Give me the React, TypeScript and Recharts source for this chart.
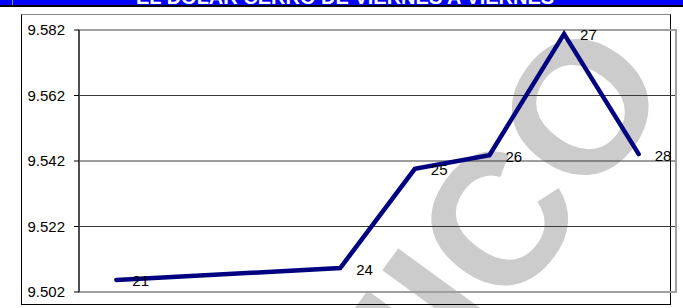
import React from "react";
import {
  LineChart,
  Line,
  XAxis,
  YAxis,
  CartesianGrid,
  ReferenceArea,
  LabelList
} from "recharts";

// days of the week shown (22 and 23 are the weekend, no quote)
const days = [21, 24, 25, 26, 27, 28];
const rates = [9.5057, 9.5093, 9.5396, 9.5438, 9.5808, 9.5441];
const yTicks = [9.502, 9.522, 9.542, 9.562, 9.582];

const title = "EL DÓLAR CERRÓ DE VIERNES A VIERNES";
const watermark = "ECONOMICO";

const data = days.map((d, i) => ({ day: d, rate: rates[i] }));

const FONT = "'Liberation Sans', Arial, sans-serif";

const DayLabel = (props: any) => {
  const { x, y, value } = props;
  return (
    <text
      x={x + 16}
      y={y + 1}
      dominantBaseline="central"
      textAnchor="start"
      fontFamily={FONT}
      fontSize={15}
      fill="#000"
    >
      {value}
    </text>
  );
};

export default function App() {
  return (
    <div
      style={{
        position: "absolute",
        left: 0,
        top: 0,
        width: 683,
        height: 308,
        overflow: "hidden",
        background: "#fff",
        fontFamily: FONT
      }}
    >
      {/* title band, mostly cut off at the top */}
      <svg width={683} height={8} style={{ position: "absolute", left: 0, top: 0 }}>
        <rect x={0} y={0} width={683} height={5} fill="#0000ff" />
        <rect x={0} y={5} width={683} height={2} fill="#000" />
        <rect x={12} y={0} width={1} height={5} fill="#8c8cff" />
        <text x={345} y={4} textAnchor="middle" fontFamily={FONT} fontWeight="bold" fontSize={20} fill="#fff">
          {title}
        </text>
      </svg>

      {/* watermark behind the chart */}
      <svg width={683} height={308} style={{ position: "absolute", left: 0, top: 0 }}>
        <text
          x={676}
          y={86}
          textAnchor="end"
          fontFamily={FONT}
          fontWeight="bold"
          fontSize={188}
          fill="#cccccc"
          transform="rotate(-54 676 86)"
        >
          {watermark}
        </text>
      </svg>

      {/* chart frame */}
      <div
        style={{
          position: "absolute",
          left: 21,
          top: 14,
          width: 650,
          height: 291,
          borderTop: "1px solid #888",
          borderLeft: "1.5px solid #000",
          borderRight: "1.5px solid #000",
          borderBottom: "1.5px solid #000",
          boxSizing: "border-box"
        }}
      />

      <div style={{ position: "absolute", left: 0, top: 0 }}>
        <LineChart
          width={683}
          height={308}
          data={data}
          margin={{ top: 30, right: 7, bottom: 16, left: 0 }}
        >
          <CartesianGrid vertical={false} stroke="#3a3a3a" strokeWidth={1} />
          <ReferenceArea
            y1={9.502}
            y2={9.582}
            fill="none"
            stroke="#a0a0a0"
            strokeWidth={2}
          />
          <XAxis dataKey="day" type="number" domain={[20.5, 28.5]} hide />
          <YAxis
            width={79}
            domain={[9.502, 9.582]}
            ticks={yTicks}
            tickFormatter={(v: number) => v.toFixed(3)}
            axisLine={{ stroke: "#000", strokeWidth: 1 }}
            tickLine={{ stroke: "#000" }}
            tickSize={5}
            tickMargin={9}
            tick={{ fill: "#000", fontSize: 15, fontFamily: FONT }}
            interval={0}
          />
          <Line
            type="linear"
            dataKey="rate"
            stroke="#000080"
            strokeWidth={4.5}
            strokeLinecap="round"
            dot={false}
            isAnimationActive={false}
          >
            <LabelList dataKey="day" content={DayLabel} />
          </Line>
        </LineChart>
      </div>
    </div>
  );
}
